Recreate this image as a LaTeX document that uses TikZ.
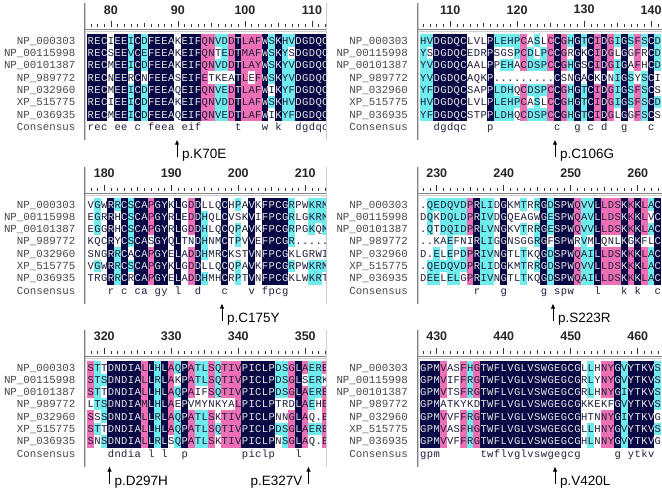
\documentclass[tikz,border=0pt]{standalone}
\usepackage{fontspec}
\setmainfont{Liberation Sans}
\newfontfamily\seqfont{Liberation Mono}
\usepackage{xstring}
\usetikzlibrary{arrows.meta,positioning}
\definecolor{alnnavy}{RGB}{8,8,68}
\definecolor{alnpink}{RGB}{238,112,180}
\definecolor{alncyan}{RGB}{112,236,236}
\definecolor{alnink}{RGB}{30,30,60}
\definecolor{framedark}{RGB}{130,130,130}
\definecolor{framelight}{RGB}{205,205,205}

\def\colw{6.7}
\def\rowh{12.3}

% background and text colour of one residue
\newcommand{\pickshade}[1]{%
  \def\cellfill{white}\def\cellink{alnink}%
  \if#1N\def\cellfill{alnnavy}\def\cellink{white!90!black}\fi
  \if#1P\def\cellfill{alnpink}\fi
  \if#1C\def\cellfill{alncyan}\fi}

% one aligned sequence: name, left x, y, residues (* is a gap), shades
\newcommand{\alnrow}[5]{%
  \foreach \n in {1,...,36}{%
    \StrChar{#4}{\n}[\cellres]%
    \StrChar{#5}{\n}[\cellcode]%
    \if\cellres*\def\cellres{.}\fi
    \pickshade{\cellcode}%
    \node[rescell,fill=\cellfill,text=\cellink] (#1-\n) at ({#2+(\n-0.5)*\colw},{#3}) {\cellres};
  }}

% consensus line, '-' is an empty column
\newcommand{\alncons}[4]{%
  \foreach \n in {1,...,36}{%
    \StrChar{#4}{\n}[\cellres]%
    \if\cellres-\relax\else
      \node[conscell] (#1-\n) at ({#2+(\n-0.5)*\colw},{#3}) {\cellres};
    \fi
  }}

% frame, ruler and sequence names: name, left x, first row y, first position, right x
\newcommand{\alnframe}[5]{%
  \draw[framedark,line width=1pt] (#2-3,#3-38) -- (#2-3,#3+99);
  \draw[framelight,line width=1pt] (#2-1.8,#3-38) -- (#2-1.8,#3+99);
  \draw[framedark,line width=1pt] (#2-3,#3-11) -- (#5,#3-11);
  \draw[framelight,line width=1.5pt] (#2-2.5,#3-9.2) -- (#5,#3-9.2);
  \foreach \n in {0,...,35}{%
    \pgfmathtruncatemacro{\pos}{#4+\n}%
    \pgfmathsetmacro{\tx}{#2+(\n+0.5)*\colw}%
    \pgfmathtruncatemacro{\tenth}{mod(\pos,10)}%
    \pgfmathtruncatemacro{\fifth}{mod(\pos,5)}%
    \ifnum\tenth=0
      \draw[rultick] (\tx,#3-20) -- (\tx,#3-14);
      \node[rulenum] (#1-\pos) at (\tx,#3-31) {\pos};
    \else\ifnum\fifth=0
      \draw[rultick] (\tx,#3-18) -- (\tx,#3-14);
    \else
      \draw[rultick] (\tx,#3-16.5) -- (\tx,#3-14);
    \fi\fi
  }
  \foreach \r/\lab in {1/NP\_000303,2/NP\_00115998,3/NP\_00101387,4/NP\_989772,5/NP\_032960,6/XP\_515775,7/NP\_036935,8/Consensus}
    \node[seqname] (#1-name\r) at (#2-12,{#3+(\r-1)*\rowh}) {\lab};
}

\begin{document}
\begin{tikzpicture}[x=1pt,y=-1pt,
    rescell/.style={minimum width=6.95pt,minimum height=12.6pt,inner sep=0pt,outer sep=0pt,
      text height=7pt,text depth=0pt,font=\seqfont\fontsize{10.5}{10.5}\selectfont},
    conscell/.style={inner sep=0pt,text height=7pt,text depth=0pt,text=alnink,
      font=\seqfont\fontsize{10.5}{10.5}\selectfont},
    seqname/.style={anchor=east,inner sep=0pt,text height=7pt,text depth=0pt,text=black!72,
      font=\seqfont\fontsize{10.8}{10.8}\selectfont},
    rulenum/.style={inner sep=0pt,text=black!85,font=\bfseries\fontsize{12.5}{12.5}\selectfont},
    rultick/.style={black!80,line width=0.6pt},
    mutarrow/.style={-{Latex[length=5pt,width=4.5pt]},line width=0.8pt},
    mutlabel/.style={inner sep=0pt,font=\fontsize{13.5}{13.5}\selectfont}]
  \useasboundingbox (0,0) rectangle (662,491);

  % top left: positions 77-112
  \alnframe{A}{87.5}{40.7}{77}{326}
  \begin{scope}
    \clip (80,0) rectangle (326,491);
    \foreach \r/\resids/\shades in {
      1/RECIEEICDFEEAKEIFQNVDDTLAFWSKHVDGDQC/NNNWNNCNCNNNNWNNNPPCCPNPPPNCNCCNNNNN,
      2/RECSEEVCEFEEAKEIFQNTEDTMAFWSKYSDGDQC/NNNWNNCNCNNNNWNNNPPWCPNPPPNCNCWNNNNN,
      3/RECMEEICDFEEAKEIFQNVDDTLAYWSKYVDGDQC/NNNWNNCNCNNNNWNNNPPCCPNPPPNCNCCNNNNN,
      4/RECNEERCNFEEASEIFETKEATLEFWSKYVDGDQC/NNNWNNWNWNNNNWNNNPWWWWNPWPNCNCCNNNNN,
      5/RECMEEICDFEEAQEIFQNVEDTLAFWIKYFDGDQC/NNNWNNCNCNNNNWNNNPPCCPNPPPNWNCCNNNNN,
      6/RECIEEICDFEEAKEIFQNVDDTLAFWSKHVDGDQC/NNNWNNCNCNNNNWNNNPPCCPNPPPNCNCCNNNNN,
      7/RECMEEICDFEEAQEIFQNVEDTLAFWIKYFDGDQC/NNNWNNCNCNNNNWNNNPPCCPNPPPNWNCCNNNNN}
      {\alnrow{A-r\r}{87.5}{40.7+(\r-1)*\rowh}{\resids}{\shades}}
    \alncons{A-cons}{87.5}{40.7+7*\rowh}{rec-ee-c-feea-eif-----t---w-k--dgdqc}
  \end{scope}
  \draw[framelight,line width=0.8pt] (326.6,2.7) -- (326.6,139.7);

  % top right: positions 106-141
  \alnframe{B}{420}{40.7}{106}{662}
  \foreach \r/\resids/\shades in {
    1/HVDGDQCLVLPLEHPCASLCCGHGTCIDGIGSFSCD/CCNNNNNWWWNCCCCPWCWPNPCNCNPNPCNCPCNC,
    2/YSDGDQCEDRPSGSPCDLPCCGRGKCIDGLGGFRCD/CWNNNNNWWWNWWWCPCWCPNPWNWNPNPWNWPWNC,
    3/YVDGDQCAALPPEHACDSPCCGHGSCIDGIGAFHCD/CCNNNNNWWWNWCCWPCCCPNPCNWNPNPCNWPWNC,
    4/YVDGDQCAQKP*********CSNGACKDNIGSYSCI/CCNNNNNWWWNWWWWWWWWWNWWNWNWNWCNCWCNW,
    5/YFDGDQCSAPPLDHQCDSPCCGHGTCIDGIGSFSCS/CCNNNNNWWWNCCCWPCCCPNPCNCNPNPCNCPCNW,
    6/HVDGDQCLVLPLEHPCASLCCGHGTCIDGIGSFSCD/CCNNNNNWWWNCCCCPWCWPNPCNCNPNPCNCPCNC,
    7/YFDGDQCSTPPLDHQCDSPCCGHGTCIDGLGGFSCS/CCNNNNNWWWNCCCWPCCCPNPCNCNPNPWNWPCNW}
    {\alnrow{B-r\r}{420}{40.7+(\r-1)*\rowh}{\resids}{\shades}}
  \alncons{B-cons}{420}{40.7+7*\rowh}{--dgdqc---p---------c--g-c-d--g---c-}

  % middle left: positions 178-213
  \alnframe{C}{87.5}{204.5}{178}{326}
  \begin{scope}
    \clip (80,0) rectangle (326,491);
    \foreach \r/\resids/\shades in {
      1/VGWRRCSCAPGYKLGDDLLQCHPAVKFPCGRPWKRM/WCWNCNCNNPNNWNWPNWWWNWCWNWNNNNCWWCCC,
      2/EGRRHCSCAPGYRLEDDHQLCVSKVIFPCGRLGKRM/WCWNWNCNNPNNWNWPNCWWNWWWNWNNNNCWWCCC,
      3/EGGRHCSCAPGYRLGDDHLQCQPAVKFPCGRPGKQM/WCWNWNCNNPNNWNWPNCWWNWCWNWNNNNCWWCWC,
      4/KQCRYCSCASGYQLTNDHNMCTPVVEFPCGR*****/WWWNWNCNNWNNWNWWNCWWNWCWNWNNNNCWWWWW,
      5/SNGRRCACAPGYELADDHMRCKSTVNFPCGKLGRWI/WWWNCNWNNPNNWNWPNCWWNWWWNWNNNNWWWWWW,
      6/VGWRRCSCAPGYKLGDDLLQCQPAVKFPCGRPWKRM/WCWNCNCNNPNNWNWPNWWWNWCWNWNNNNCWWCCC,
      7/TRGRRCRCAPGYELADDHMHCRPTVNFPCGKLWKRT/WWWNCNWNNPNNWNWPNCWWNWCWNWNNNNWWWCCW}
      {\alnrow{C-r\r}{87.5}{204.5+(\r-1)*\rowh}{\resids}{\shades}}
    \alncons{C-cons}{87.5}{204.5+7*\rowh}{---r-c-ca-gy-l--d---c---v-fpcg------}
  \end{scope}
  \draw[framelight,line width=0.8pt] (326.6,166.5) -- (326.6,303.5);

  % middle right: positions 228-263
  \alnframe{D}{420}{204.5}{228}{662}
  \foreach \r/\resids/\shades in {
    1/*QEDQVDPRLIDGKMTRRGDSPWQVVLLDSKKKLAC/WCCCCCCPNCCWNWWCWCNCNNNPCCNPPPNPNPCN,
    2/DQKDQLDPRIVDGQEAGWGESPWQAVLLDSKKKLVC/WCWCCCCPNCCWNWWWWWNCNNNPCCNPPPNPNPWN,
    3/*QTDQIDPRLVNGKVTRRGESPWQVVLLDSKKKLAC/WCWCCCCPNCCWNWWCWCNCNNNPCCNPPPNPNPCN,
    4/**KAEFNIRLIGGNSGGRGFSPWRVMLQNLKGKFLC/WWWWCWWWNCCWNWWWWCNWNNNWCWNWWWNWNWWN,
    5/D*ELEPDPRIVNGTLTKQGDSPWQAILLDSKKKLAC/WWCWCWCPNCCWNWWCWWNCNNNPCCNPPPNPNPCN,
    6/*QEDQVDPRLIDGKMTRRGDSPWQVVLLDSKKKLAC/WCCCCCCPNCCWNWWCWCNCNNNPCCNPPPNPNPCN,
    7/DEELELGPRIVNGTLTKQGDSPWQAILLDSKKKLAC/WCCWCCWPNCCWNWWCWWNCNNNPCCNPPPNPNPCN}
    {\alnrow{D-r\r}{420}{204.5+(\r-1)*\rowh}{\resids}{\shades}}
  \alncons{D-cons}{420}{204.5+7*\rowh}{--------r---g-----g-spw---l---k-k--c}

  % bottom left: positions 318-353
  \alnframe{E}{87.5}{367.5}{318}{326}
  \begin{scope}
    \clip (80,0) rectangle (326,491);
    \foreach \r/\resids/\shades in {
      1/STTDNDIALLHLAQPATLSQTIVPICLPDSGLAERE/PCWNNNNNPNCNPCNPCCPCPPPNNNNNCCPNPCCP,
      2/STSDNDIALLRLAKPATLSQTIVPICLPDSGLSERK/PCCNNNNNPNCNPWNPCCPCPPPNNNNNCCPNWCCW,
      3/STTDNDIALLHLAQPAIFSQTIVPICLPDSGLAERE/PCWNNNNNPNCNPCNPWWPCPPPNNNNNCCPNPCCP,
      4/LTSDNDIAMLHLAEPVMYNKYALPICLPTRDLAEHE/WCCNNNNNPNCNPWNWWWWWWWPNNNNNWWWNPCWP,
      5/SSSDNDIALLRLAQPATLSKTIVPICLPNNGLAQ*E/PWCNNNNNPNCNPCNPCCPWPPPNNNNNWWPNPWWP,
      6/STTDNDIALLHLAQPATLSQTIVPICLPDSGLAERE/PCWNNNNNPNCNPCNPCCPCPPPNNNNNCCPNPCCP,
      7/SNSDNDIALLRLSQPATLSKTIVPICLPNSGLAQ*E/PWCNNNNNPNCNWCNPCCPWPPPNNNNNWCPNPWWP}
      {\alnrow{E-r\r}{87.5}{367.5+(\r-1)*\rowh}{\resids}{\shades}}
    \alncons{E-cons}{87.5}{367.5+7*\rowh}{---dndia-l-l--p--------piclp---l----}
  \end{scope}
  \draw[framelight,line width=0.8pt] (326.6,329.5) -- (326.6,466.5);

  % bottom right: positions 428-463
  \alnframe{F}{420}{367.5}{428}{662}
  \foreach \r/\resids/\shades in {
    1/GPMVASFHGTWFLVGLVSWGEGCGLLHNYGVYTKVS/NNNPWWPCPNNNNNNNNNNNNNNNWCWPPNCNNNNC,
    2/GPMVIFFRGTWFLVGLVSWGEGCGRLYNYGVYTKVS/NNNPWWPCPNNNNNNNNNNNNNNNWCWPPNCNNNNC,
    3/GPMVTSFRGTWFLVGLVSWGEGCGRLHNYGIYTKVS/NNNPWWPCPNNNNNNNNNNNNNNNWCWPPNCNNNNC,
    4/GPMATKYKDTWFLVGLVSWGEGCGKKEKFGVYTKVS/NNNWWWWWWNNNNNNNNNNNNNNNWWWWWNCNNNNC,
    5/GPMVVFFRGTWFLVGLVSWGEGCGHTNNYGIYTKVG/NNNPWWPCPNNNNNNNNNNNNNNNWWWPPNCNNNNW,
    6/GPMVASFHGTWFLVGLVSWGEGCGLLHNYGVYTKVS/NNNPWWPCPNNNNNNNNNNNNNNNWCWPPNCNNNNC,
    7/GPMVVFFRGTWFLVGLVSWGEGCGHLNNYGVYTKVG/NNNPWWPCPNNNNNNNNNNNNNNNWCWPPNCNNNNW}
    {\alnrow{F-r\r}{420}{367.5+(\r-1)*\rowh}{\resids}{\shades}}
  \alncons{F-cons}{420}{367.5+7*\rowh}{gpm------twflvglvswgegcg-----g-ytkv-}

  % mutation marks
  \foreach \m/\x/\y/\dx/\anc in {K70E/177/40.7/5/base west, C106G/555/40.7/5/base west,
      C175Y/222/204.5/5/base west, S223R/553/204.5/5/base west,
      D297H/109.5/367.5/5/base west, E327V/308.5/367.5/-6/base east,
      V420L/555/367.5/5/base west}{
    \coordinate (\m-tip) at (\x,\y+99);
    \coordinate (\m-end) at (\x,\y+116.5);
    \draw[mutarrow] (\m-end) -- (\m-tip);
    \node[mutlabel,anchor=\anc] (\m) at (\x+\dx,\y+117.5) {p.\m};
  }
\end{tikzpicture}
\end{document}
